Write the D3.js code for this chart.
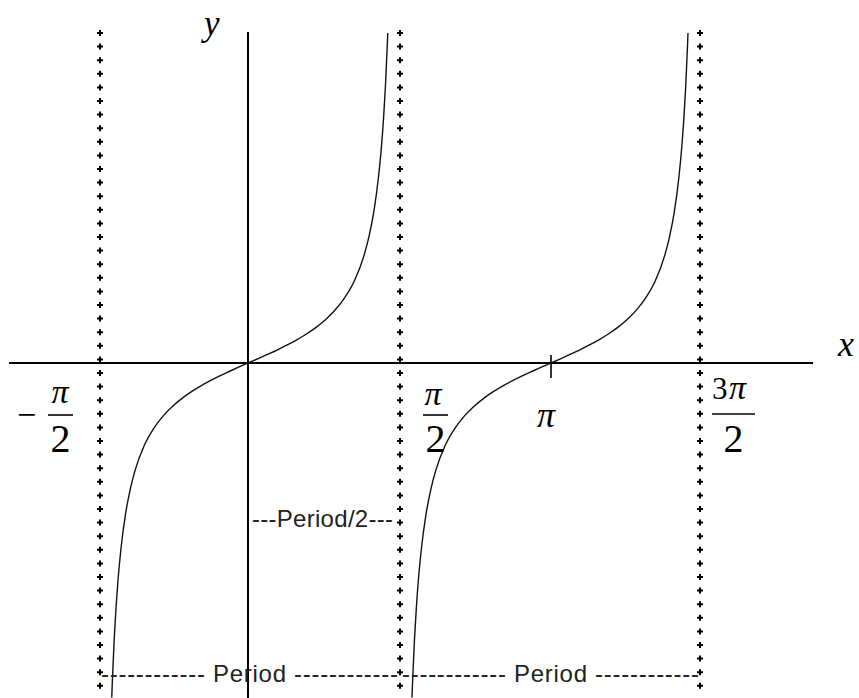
<!DOCTYPE html>
<html>
<head>
<meta charset="utf-8">
<script src="https://cdn.jsdelivr.net/npm/d3@7"></script>
<style>
  html, body { margin: 0; padding: 0; background: #fff; }
  svg { display: block; }
</style>
</head>
<body>
<svg id="chart" width="859" height="698"></svg>
<script>
// ---- data ----
// x key angles (radians) and their pixel anchors are set by scales below
const xKeys = [-Math.PI / 2, 0, Math.PI / 2, Math.PI, 3 * Math.PI / 2];
// asymptotes of y = tan x shown in the picture
const asymptotes = [-Math.PI / 2, Math.PI / 2, 3 * Math.PI / 2];
// tick mark on x axis
const xTicks = [Math.PI];
// one branch of the curve: angle offset from branch centre, y value
const branchX = [-1.446, -1.44, -1.42, -1.40, -1.38, -1.35, -1.30, -1.25, -1.20, -1.10, -1.00, -0.90, -0.80, -0.70, -0.60, -0.50, -0.40, -0.30, -0.20, -0.10, 0,
                 0.10, 0.20, 0.30, 0.40, 0.50, 0.60, 0.70, 0.80, 0.90, 1.00, 1.10, 1.20, 1.25, 1.30, 1.35, 1.38, 1.40, 1.42, 1.44, 1.4442];
const branchY = [-7.97, -7.60, -6.58, -5.80, -5.18, -4.46, -3.60, -3.01, -2.57, -1.96, -1.557, -1.260, -1.030, -0.842, -0.684, -0.546, -0.423, -0.309, -0.203, -0.100, 0,
                 0.100, 0.203, 0.309, 0.423, 0.546, 0.684, 0.842, 1.030, 1.260, 1.557, 1.96, 2.57, 3.01, 3.60, 4.46, 5.18, 5.80, 6.58, 7.60, 7.86];
const branchCenters = [0, Math.PI];

const svg = d3.select("#chart");

// ---- scales ----
const x = d3.scaleLinear().domain(xKeys).range([100, 248, 400, 551, 700]);
const y = d3.scaleLinear().domain([-7.98, 7.86]).range([698, 33]);
const y0 = y(0);

// ---- asymptote dotted lines (small crosses) ----
const dotYs = d3.range(33, 698, 13.6);
const cross = d3.symbol().type(d3.symbolCross).size(20);
asymptotes.forEach(a => {
  svg.append("g").selectAll("path").data(dotYs).join("path")
    .attr("d", cross)
    .attr("transform", d => `translate(${x(a)},${d})`)
    .attr("fill", "#000");
});

// ---- axes ----
svg.append("line").attr("x1", 9).attr("x2", 813).attr("y1", y0).attr("y2", y0)
  .attr("stroke", "#000").attr("stroke-width", 2);
svg.append("line").attr("x1", x(0)).attr("x2", x(0)).attr("y1", 32).attr("y2", 698)
  .attr("stroke", "#000").attr("stroke-width", 2);
xTicks.forEach(t => {
  svg.append("line").attr("x1", x(t)).attr("x2", x(t)).attr("y1", y0 - 8).attr("y2", y0 + 15)
    .attr("stroke", "#000").attr("stroke-width", 1.6);
});

// ---- curve ----
const pts = branchX.map((bx, i) => [bx, branchY[i]]);
const line = d3.line().x(d => x(d[0])).y(d => y(d[1])).curve(d3.curveMonotoneX);
branchCenters.forEach(c => {
  svg.append("path")
    .datum(pts.map(p => [p[0] + c, p[1]]))
    .attr("d", line)
    .attr("fill", "none").attr("stroke", "#111").attr("stroke-width", 1.4);
});

// ---- math labels ----
const serif = "'Liberation Serif', 'Times New Roman', serif";
function txt(t, px, py, size, opts = {}) {
  return svg.append("text").attr("x", px).attr("y", py).text(t)
    .attr("font-family", serif).attr("font-size", size)
    .attr("font-style", opts.italic ? "italic" : "normal")
    .attr("text-anchor", opts.anchor || "middle").attr("fill", "#000");
}
function bar(x1, x2, yy) {
  svg.append("line").attr("x1", x1).attr("x2", x2).attr("y1", yy).attr("y2", yy)
    .attr("stroke", "#000").attr("stroke-width", 1.6);
}
// axis names
txt("y", 204, 35, 35, { italic: true, anchor: "start" });
txt("x", 838, 356, 36, { italic: true, anchor: "start" });
// -pi/2
txt("\u2212", 26.5, 426, 34);
txt("\u03c0", 60, 403, 34, { italic: true });
bar(48, 73, 415);
txt("2", 60.5, 452, 40);
// pi/2
txt("\u03c0", 433, 405, 34, { italic: true });
bar(423, 448, 415);
txt("2", 435.5, 452, 40);
// pi
txt("\u03c0", 546, 427, 36, { italic: true });
// 3pi/2
txt("3", 712, 399, 31, { anchor: "start" });
txt("\u03c0", 729, 399, 34, { italic: true, anchor: "start" });
bar(712, 755, 414);
txt("2", 733.5, 452, 40);

// ---- period annotations ----
const sans = "'Liberation Sans', Arial, sans-serif";
const periodLabels = [
  { t: "---Period/2---", x0: 252, x1: 393, yb: 527 },
  { t: "------------ Period ------------", x0: 101, x1: 398, yb: 682 },
  { t: "------------ Period ------------", x0: 402, x1: 699, yb: 682 }
];
periodLabels.forEach(p => {
  svg.append("text").attr("x", p.x0).attr("y", p.yb).text(p.t)
    .attr("font-family", sans).attr("font-size", 24)
    .attr("textLength", p.x1 - p.x0).attr("lengthAdjust", "spacing")
    .attr("fill", "#222");
});
</script>
</body>
</html>
